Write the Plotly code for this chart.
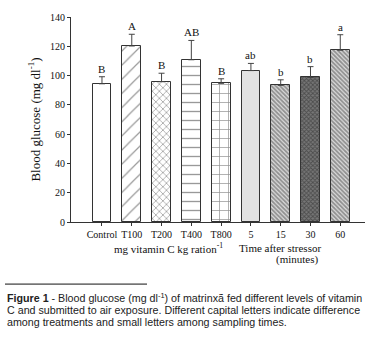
import plotly.graph_objects as go

categories = ["Control", "T100", "T200", "T400", "T800", "5", "15", "30", "60"]
means = [94.4, 120.2, 95.8, 110.8, 94.7, 103.4, 93.3, 98.7, 117.3]
errors = [4.8, 8.0, 5.8, 13.2, 3.1, 4.9, 3.8, 7.4, 10.6]
letters = ["B", "A", "B", "AB", "B", "ab", "b", "b", "a"]
y_ticks = [0, 20, 40, 60, 80, 100, 120, 140]

pos = list(range(len(categories)))

shapes = ["", "/", "x", "-", "+", "", "\\", "x", "\\"]
sizes = [8, 10, 5, 9, 9, 8, 3, 3, 3]
solid = [0.2, 0.12, 0.25, 0.15, 0.15, 0.2, 0.6, 0.5, 0.6]
fills = ["white", "white", "white", "white", "white", "#e2e2e2", "#dddddd", "#777777", "#dddddd"]
fgcol = ["#333", "#333", "#222", "#333", "#222", "#333", "#444", "#222", "#444"]

fig = go.Figure()
for i in pos:
    fig.add_trace(go.Bar(
        x=[pos[i]], y=[means[i]], width=0.63,
        marker=dict(color=fills[i], line=dict(color="#333", width=1),
                    pattern=dict(shape=shapes[i], size=sizes[i], solidity=solid[i],
                                 fgcolor=fgcol[i], bgcolor=fills[i])),
        error_y=dict(type="data", symmetric=False, array=[errors[i]], arrayminus=[0],
                     color="#444", thickness=1, width=3),
        showlegend=False,
    ))

ann = []
for i in pos:
    ann.append(dict(x=pos[i], y=means[i] + errors[i], text=letters[i], showarrow=False,
                    yanchor="bottom", yshift=0, xref="x", yref="y",
                    font=dict(family="Liberation Serif", size=11, color="#111")))

serif = dict(family="Liberation Serif", size=11, color="#111")
tickserif = dict(family="Liberation Serif", size=10, color="#111")
sub = [
    dict(x=168, y=248, text="mg vitamin C kg ration<sup>-1</sup>"),
    dict(x=280, y=248, text="Time after stressor"),
    dict(x=297, y=260, text="(minutes)"),
]

L, R, T, B = 71, 11, 14, 122
W, H = 376, 344
pw, ph = W - L - R, H - T - B
for a in sub:
    a.update(xref="paper", yref="paper", showarrow=False, font=serif,
             x=(a["x"] - L) / pw, y=(H - B - a["y"]) / ph,
             xanchor="center", yanchor="middle")
ann += sub

sans = dict(family="Liberation Sans", size=10.7, color="#222")
cap_lines = [
    "<b>Figure 1</b> - Blood glucose (mg dl<sup>-1</sup>) of matrinxã fed different levels of vitamin",
    "C and submitted to air exposure. Different capital letters indicate difference",
    "among treatments and small letters among sampling times.",
]
cap_y = [299, 311, 323]
for t, yy in zip(cap_lines, cap_y):
    ann.append(dict(xref="paper", yref="paper", x=(5 - L) / pw, y=(H - B - yy) / ph,
                    text=t, showarrow=False, xanchor="left", yanchor="middle", font=sans))

fig.update_layout(
    width=W, height=H,
    margin=dict(l=L, r=R, t=T, b=B),
    plot_bgcolor="white", paper_bgcolor="white",
    annotations=ann,
    shapes=[dict(type="line", xref="paper", yref="paper",
                 x0=(5 - L) / pw, x1=(147 - L) / pw,
                 y0=(H - B - 285) / ph, y1=(H - B - 285) / ph,
                 line=dict(color="#111", width=1))],
    xaxis=dict(range=[-1.04, 8.83], tickmode="array", tickvals=pos, ticktext=categories,
               tickangle=0,
               showline=True, linecolor="#333", linewidth=1, ticks="outside", ticklen=3,
               tickcolor="#333", showgrid=False, zeroline=False, tickfont=tickserif),
    yaxis=dict(range=[0, 140], tickvals=y_ticks, showline=True, linecolor="#333", linewidth=1,
               ticks="outside", ticklen=3, tickcolor="#333", showgrid=False, zeroline=False,
               tickfont=tickserif,
               title=dict(text="Blood glucose (mg dl<sup>-1</sup>)",
                          font=dict(family="Liberation Serif", size=13, color="#111"),
                          standoff=6)),
    bargap=0,
)

fig.write_html("out.html")
